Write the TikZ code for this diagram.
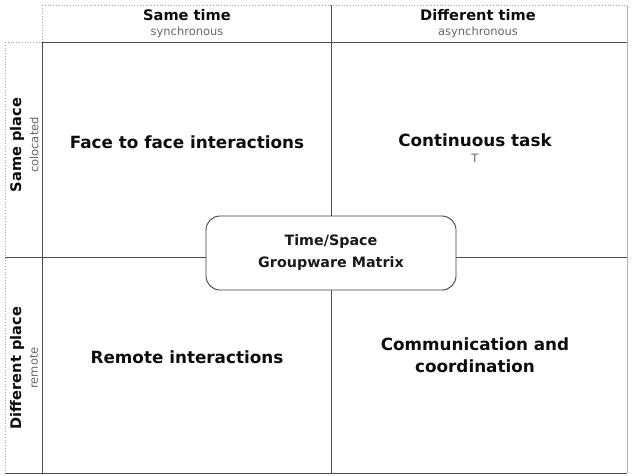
\documentclass[tikz,border=0pt]{standalone}
\usepackage{fontspec}
\setmainfont{DejaVu Sans}
\begin{document}
\begin{tikzpicture}[x=1pt,y=-1pt,
  dark/.style={draw=black!70,line width=1pt},
  light/.style={draw=black!30,line width=0.8pt},
  dots/.style={draw=black!35,line width=0.8pt,dotted},
  head/.style={font=\bfseries\fontsize{14.6}{17}\selectfont,text=black!95,inner sep=0pt},
  sub/.style={font=\fontsize{11.5}{13}\selectfont,text=black!60,inner sep=0pt},
  cell/.style={font=\bfseries\fontsize{16.8}{22}\selectfont,text=black!95,align=center,inner sep=0pt},
  center/.style={draw=black!75,line width=0.9pt,rounded corners=14pt,fill=white,minimum width=250pt,minimum height=74pt,align=center,font=\bfseries\fontsize{14.3}{22}\selectfont,text=black!90}]
\useasboundingbox (0,0) rectangle (635,475);
% grid coordinates
\coordinate (htl) at (42,5);
\coordinate (htr) at (627,5);
\coordinate (hbl) at (42,42);
\coordinate (hbr) at (627,42);
\coordinate (ltl) at (5,42);
\coordinate (lbl) at (5,473);
\coordinate (gbl) at (42,473);
\coordinate (gbr) at (627,473);
\coordinate (vt) at (331,5);
\coordinate (vb) at (331,473);
\coordinate (ml) at (5,257);
\coordinate (mr) at (627,257);
% dotted outer borders
\draw[dots] (htl) -- (htr);
\draw[dots] (htl) -- (hbl);
\draw[dots] (ltl) -- (hbl);
\draw[dots] (ltl) -- (lbl);
\draw[light] (htr) -- (gbr);
% dark lines
\draw[dark] (hbl) -- (hbr);
\draw[dark] (hbl) -- (gbl);
\draw[dark] (lbl) -- (gbr);
\draw[dark] (vt) -- (vb);
\draw[dark] (ml) -- (mr);
% center box
\node[center] (mid) at (331,253) {Time/Space\\Groupware Matrix};
% headers
\node[head] (st) at (187,15) {Same time};
\node[sub] (sts) at (187,32) {synchronous};
\node[head] (dt) at (478,15) {Different time};
\node[sub] (dts) at (478,32) {asynchronous};
\node[head,rotate=90] (sp) at (17,145) {Same place};
\node[sub,rotate=90] (sps) at (34,145) {colocated};
\node[head,rotate=90] (dp) at (17,368) {Different place};
\node[sub,rotate=90] (dps) at (34,368) {remote};
% cells
\node[cell] (ff) at (187,142) {Face to face interactions};
\node[cell] (ct) at (475,140) {Continuous task};
\node[sub] (t) at (475,158) {T};
\node[cell] (ri) at (187,357) {Remote interactions};
\node[cell] (cc) at (475,355) {Communication and\\coordination};
\end{tikzpicture}
\end{document}
